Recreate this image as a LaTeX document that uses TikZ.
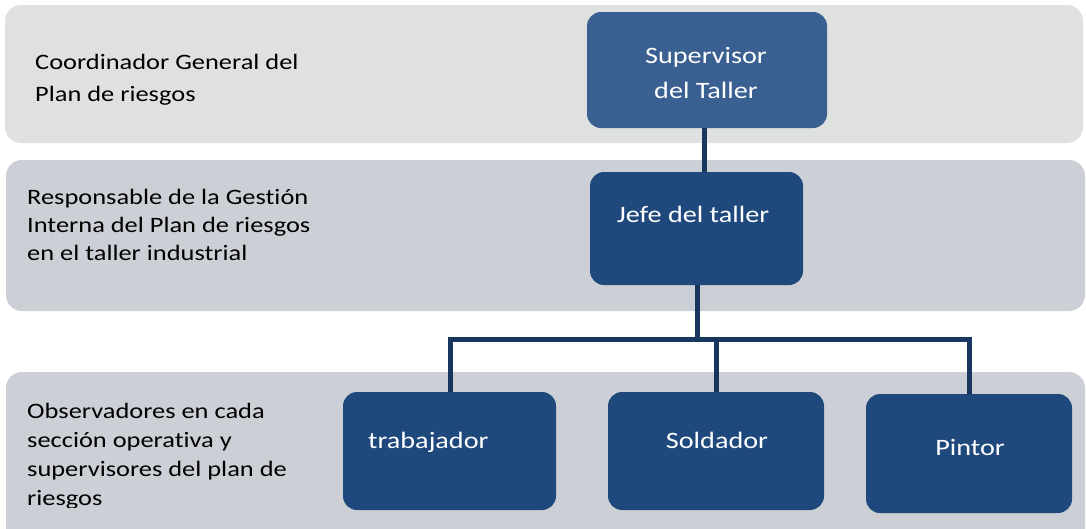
\documentclass[tikz,border=0pt]{standalone}
\usepackage{fontspec}
\setmainfont{Carlito}[FakeStretch=1.2, Ligatures={NoCommon}]
\usetikzlibrary{calc}
\definecolor{bandA}{HTML}{DEE1E0}
\definecolor{bandB}{HTML}{CCCFD6}
\definecolor{boxA}{HTML}{3A5F91}
\definecolor{boxB}{HTML}{1F497D}
\definecolor{linkc}{HTML}{17375E}
\newcommand{\nolig}{\kern0pt}
\begin{document}
\begin{tikzpicture}[x=1pt,y=-1pt,
  band/.style={fill=#1, draw=none, rounded corners=16pt},
  orgbox/.style={rectangle, fill=#1, draw=none, rounded corners=14pt, inner sep=0pt},
  boxtext/.style={text=white, font=\fontsize{23.5}{35}\selectfont, align=center, inner sep=0pt, anchor=base},
  lbl/.style={text=black, align=left, inner sep=0pt, anchor=base west},
  conn/.style={draw=linkc, line width=5pt}]
\useasboundingbox (0,0) rectangle (1086,528);
\clip (0,0) rectangle (1086,528);
% bands
\fill[band=bandA] (5,5) rectangle (1083,143);
\fill[band=bandB] (6,160) rectangle (1085,311);
\fill[band=bandB] (6,372) rectangle (1085,560);
% band labels (anchor = baseline of the last line)
\begin{scope}
\clip (0,0) rectangle (1086,105);
\node[lbl, font=\fontsize{22}{32}\selectfont] (l1) at (35,101) {Coordinador General del\\Plan de riesgos};
\end{scope}
\node[lbl, font=\fontsize{22}{28}\selectfont] (l2) at (27,260) {Responsable de la Gest\nolig ión\\Interna del Plan de riesgos\\en el taller industrial};
\begin{scope}
\clip (0,0) rectangle (1086,507);
\node[lbl, font=\fontsize{22}{29}\selectfont] (l3) at (27,505) {Observadores en cada\\sección operat\nolig iva y\\supervisores del plan de\\riesgos};
\end{scope}
% boxes
\node[orgbox=boxA, minimum width=240pt, minimum height=116pt] (sup) at (707,70) {};
\node[orgbox=boxB, minimum width=213pt, minimum height=113pt] (jefe) at (696.5,228.5) {};
\node[orgbox=boxB, minimum width=213pt, minimum height=118pt] (trab) at (449.5,451) {};
\node[orgbox=boxB, minimum width=216pt, minimum height=118pt] (sold) at (716,451) {};
\node[orgbox=boxB, minimum width=206pt, minimum height=119pt] (pint) at (969,453.5) {};
% box texts
\node[boxtext] (tsup) at (706,98) {Supervisor\\del Taller};
\node[boxtext] (tjefe) at (693,222) {Jefe del taller};
\node[boxtext, anchor=base west] (ttrab) at (368,448) {trabajador};
\node[boxtext] (tsold) at (717,448) {Soldador};
\node[boxtext] (tpint) at (970,455) {Pintor};
% connectors
\coordinate (c1) at (704,0);
\coordinate (bus) at (697,339);
\coordinate (tx) at (450,0);
\coordinate (sx) at (716,0);
\coordinate (px) at (969,0);
\draw[conn] (sup.south -| c1) -- (jefe.north -| c1);
\draw[conn] (jefe.south -| bus) -- (bus);
\draw[conn] (trab.north -| tx) -- (tx |- bus) -- (px |- bus) -- (pint.north -| px);
\draw[conn] (sx |- bus) -- (sold.north -| sx);
\end{tikzpicture}
\end{document}
